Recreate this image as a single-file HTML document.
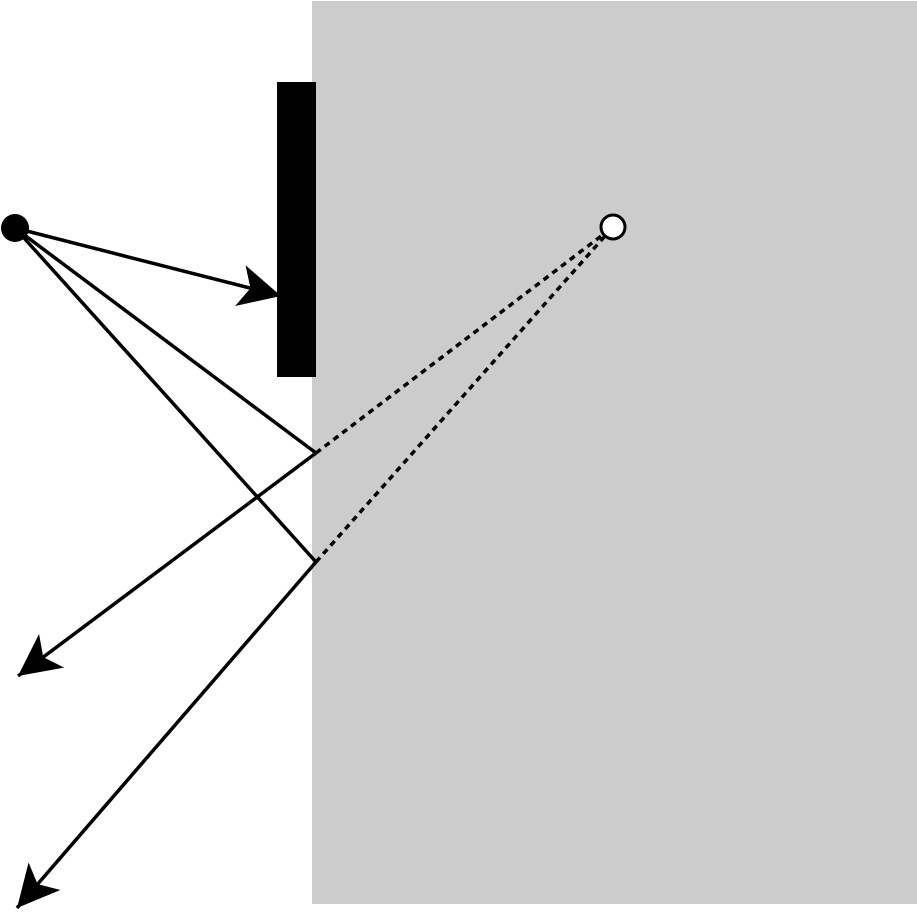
<!DOCTYPE html>
<html><head><style>html,body{margin:0;padding:0;background:#fff}</style></head>
<body>
<svg width="917" height="912" xmlns="http://www.w3.org/2000/svg">
<defs>
<marker id="a" markerWidth="14" markerHeight="12" refX="12" refY="6" orient="auto" markerUnits="strokeWidth">
<path d="M0,0 L12,6 L0,12 L3,6 Z" fill="#000"/>
</marker>
</defs>
<rect x="312" y="1" width="605" height="903" fill="#cccccc"/>
<rect x="277" y="82" width="39" height="295" fill="#000"/>
<g stroke="#000" stroke-width="3.5" fill="none">
<line x1="15" y1="228" x2="281" y2="296" marker-end="url(#a)"/>
<line x1="15" y1="228" x2="316" y2="453"/>
<line x1="15" y1="228" x2="316" y2="562"/>
<line x1="316" y1="453" x2="18" y2="676" marker-end="url(#a)"/>
<line x1="316" y1="562" x2="17" y2="908" marker-end="url(#a)"/>
<line x1="316" y1="453" x2="613" y2="227" stroke-dasharray="6,5"/>
<line x1="316" y1="562" x2="613" y2="227" stroke-dasharray="6,5"/>
</g>
<circle cx="15" cy="228" r="14" fill="#000"/>
<circle cx="613" cy="227" r="12" fill="#fff" stroke="#000" stroke-width="3"/>
</svg>
</body></html>
